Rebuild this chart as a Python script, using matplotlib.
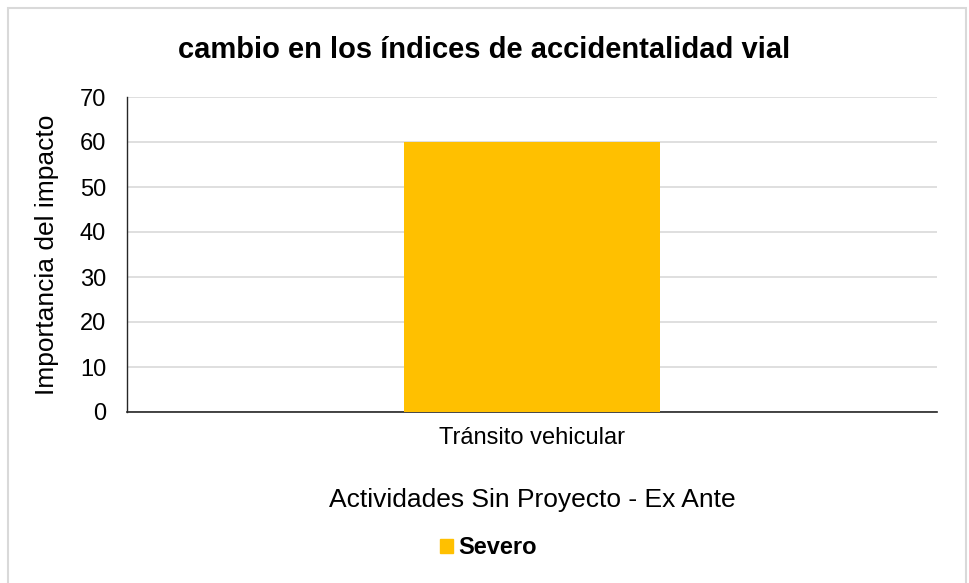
import matplotlib
matplotlib.use('Agg')
import matplotlib.pyplot as plt
from matplotlib.patches import Rectangle, Patch

# datos de la gráfica
categorias = ['Tránsito vehicular']
importancia = [60]
serie = 'Severo'

plt.rcParams['font.family'] = ['Liberation Sans', 'DejaVu Sans']

fig = plt.figure(figsize=(9.69, 5.83), dpi=100)
ax = fig.add_axes([127/969, 1-412/583, (937-127)/969, (412-97)/583])

ax.bar(categorias, importancia, width=0.315, color='#FFC000', zorder=3)
ax.set_xlim(-0.5, 0.5)
ax.set_ylim(0, 70)
ax.set_yticks(range(0, 71, 10))
ax.grid(axis='y', color='#d9d9d9', linewidth=1.2, zorder=0)
ax.tick_params(axis='y', length=0, labelsize=17, colors='black', pad=15)
ax.tick_params(axis='x', length=0, labelsize=17, colors='black', pad=11)
for s in ['top', 'right']:
    ax.spines[s].set_visible(False)
ax.spines['left'].set_color('#262626')
ax.spines['bottom'].set_color('#262626')
ax.spines['left'].set_linewidth(1.0)
ax.spines['bottom'].set_linewidth(1.2)

ax.set_ylabel('Importancia del impacto', fontsize=19, va='center')
ax.yaxis.set_label_coords(-0.099, 0.5)
ax.set_xlabel('Actividades Sin Proyecto - Ex Ante', fontsize=19, va='center')
ax.xaxis.set_label_coords(0.5, -0.279)

fig.text(0.5, 1-50/583, 'cambio en los índices de accidentalidad vial',
         ha='center', va='center', fontsize=21, fontweight='bold')

leg = fig.legend(handles=[Patch(color='#FFC000', label=serie)],
                 loc='center', bbox_to_anchor=(0.5 + 4/969, 1-548/583), frameon=False,
                 handlelength=0.55, handleheight=0.55, handletextpad=0.25,
                 prop={'size': 17, 'weight': 'bold'})

# marco exterior
fig.patches.append(Rectangle((8/969, -0.01), (966-8)/969, 1-8/583+0.01,
                             transform=fig.transFigure, fill=False,
                             edgecolor='#d9d9d9', linewidth=1.5))

fig.savefig('out.png', dpi=100)
